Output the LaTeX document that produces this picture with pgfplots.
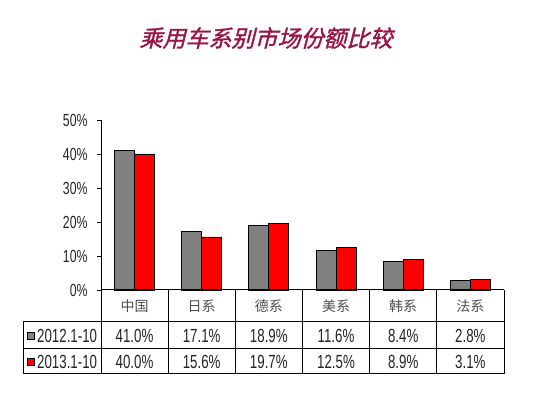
\documentclass[border=0pt]{standalone}
\usepackage{pgfplots}
\pgfplotsset{compat=1.18}
\usepackage{fontspec}
\setmainfont[FakeStretch=0.7]{Liberation Sans}
\newfontfamily\cjk{Noto Sans CJK SC}
\newfontfamily\cjktitle[FakeSlant=0.25,FakeBold=1.4]{Noto Sans CJK SC}
\definecolor{titlered}{RGB}{155,20,70}
\definecolor{barGray}{RGB}{128,128,128}
\definecolor{barRed}{RGB}{255,0,0}
\definecolor{txt}{RGB}{35,35,35}
\begin{document}
\begin{tikzpicture}[x=1pt,y=1pt]
\useasboundingbox (0,0) rectangle (550,393);
\node[text=titlered, font=\cjktitle\fontsize{23}{26}\selectfont] at (266,355) {乘用车系别市场份额比较};
\begin{axis}[
  at={(101pt,103pt)}, anchor=south west, scale only axis,
  width=403pt, height=170pt,
  xmin=-0.5, xmax=5.5, ymin=0, ymax=50,
  axis x line=none, axis y line=left,
  y axis line style={-, black, line width=0.9pt},
  ytick={0,10,20,30,40,50},
  yticklabel={\pgfmathprintnumber{\tick}\%},
  tick align=outside, major tick length=4pt,
  ytick style={black, line width=0.8pt},
  yticklabel style={font=\fontsize{17.5}{19}\selectfont, text=txt, xshift=-6pt},
  /pgf/number format/assume math mode=true,
  ybar=0pt, bar width=20pt,
  clip=false,
]
\addplot[fill=barGray, draw=black, line width=0.9pt] coordinates {(0,41.0) (1,17.1) (2,18.9) (3,11.6) (4,8.4) (5,2.8)};
\addplot[fill=barRed, draw=black, line width=0.9pt] coordinates {(0,40.0) (1,15.6) (2,19.7) (3,12.5) (4,8.9) (5,3.1)};
\end{axis}
% data table
\begin{scope}[line width=1pt, black]
\draw (101,103) -- (504,103);
\draw (23,71) -- (504,71);
\draw (23,44) -- (504,44);
\draw (23,19) -- (504,19);
\draw (23,71) -- (23,19);
\draw (101,103) -- (101,19);
\draw (504,103) -- (504,19);
\foreach \xx in {168,235,302,369,436} {\draw (\xx,103) -- (\xx,19);}
\end{scope}
\foreach \lab [count=\i from 0] in {中国,日系,德系,美系,韩系,法系} {
  \node[font=\cjk\fontsize{14}{16}\selectfont, text=black!70] at (134.5+67.17*\i,87) {\lab};
}
\foreach \v [count=\i from 0] in {41.0\%,17.1\%,18.9\%,11.6\%,8.4\%,2.8\%} {
  \node[font=\fontsize{19}{21}\selectfont, text=txt] at (134.5+67.17*\i,57) {\v};
}
\foreach \v [count=\i from 0] in {40.0\%,15.6\%,19.7\%,12.5\%,8.9\%,3.1\%} {
  \node[font=\fontsize{19}{21}\selectfont, text=txt] at (134.5+67.17*\i,31) {\v};
}
\draw[fill=barGray, draw=black, line width=0.8pt] (27,53.5) rectangle (34,60.5);
\draw[fill=barRed, draw=black, line width=0.8pt] (27,27.5) rectangle (34,34.5);
\node[anchor=west, inner sep=0pt, font=\fontsize{19}{21}\selectfont, text=txt] at (37,57) {2012.1-10};
\node[anchor=west, inner sep=0pt, font=\fontsize{19}{21}\selectfont, text=txt] at (37,31) {2013.1-10};
\end{tikzpicture}
\end{document}
